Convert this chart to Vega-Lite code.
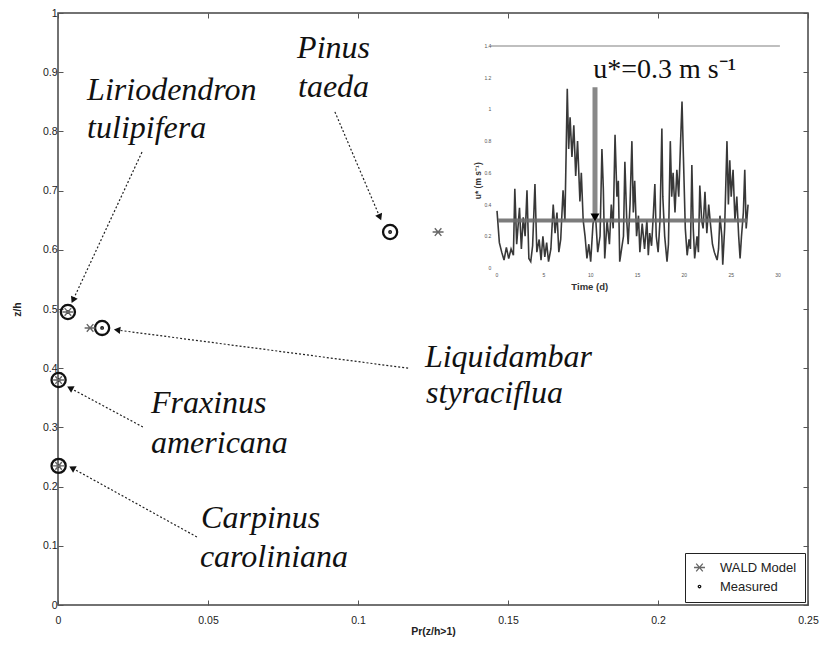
{
  "$schema": "https://vega.github.io/schema/vega-lite/v6.json",
  "autosize": {"type": "none"},
  "padding": {"left": 58, "top": 13, "right": 21, "bottom": 48},
  "width": 750,
  "height": 592,
  "background": "white",
  "config": {
    "view": {"stroke": "#444", "strokeWidth": 1.5},
    "font": "Liberation Sans",
    "axis": {
      "domain": false, "grid": false, "ticks": true, "tickSize": -5, "tickColor": "#555", "tickWidth": 1,
      "labelFont": "Liberation Sans", "labelFontSize": 10.5, "labelColor": "#222", "labelPadding": 6, "labelFlush": false,
      "titleFont": "Liberation Sans", "titleFontSize": 10.5, "titleFontWeight": "bold", "titleColor": "#222"
    },
    "legend": {
      "orient": "bottom-right", "offset": 3, "strokeColor": "#222", "fillColor": "white", "padding": 8,
      "labelFont": "Liberation Sans", "labelFontSize": 13, "labelColor": "#222", "rowPadding": 5, "labelOffset": 14, "symbolStrokeWidth": 1.3
    }
  },
  "datasets": {
    "pts": [
      {"species": "Pinus taeda", "series": "Measured", "pr": 0.1107, "zh": 0.630},
      {"species": "Liriodendron tulipifera", "series": "Measured", "pr": 0.0033, "zh": 0.495},
      {"species": "Liquidambar styraciflua", "series": "Measured", "pr": 0.0147, "zh": 0.468},
      {"species": "Fraxinus americana", "series": "Measured", "pr": 0.0002, "zh": 0.380},
      {"species": "Carpinus caroliniana", "series": "Measured", "pr": 0.0002, "zh": 0.235},
      {"species": "Pinus taeda", "series": "WALD Model", "pr": 0.1267, "zh": 0.630},
      {"species": "Liriodendron tulipifera", "series": "WALD Model", "pr": 0.0033, "zh": 0.495},
      {"species": "Liquidambar styraciflua", "series": "WALD Model", "pr": 0.0107, "zh": 0.468},
      {"species": "Fraxinus americana", "series": "WALD Model", "pr": 0.0002, "zh": 0.380},
      {"species": "Carpinus caroliniana", "series": "WALD Model", "pr": 0.0002, "zh": 0.235}
    ],
    "arrows": [
      {"species": "Pinus taeda", "x1": 0.0923, "y1": 0.833, "x2": 0.1073, "y2": 0.655},
      {"species": "Liriodendron tulipifera", "x1": 0.028, "y1": 0.765, "x2": 0.005, "y2": 0.515},
      {"species": "Liquidambar styraciflua", "x1": 0.1167, "y1": 0.400, "x2": 0.0197, "y2": 0.4645},
      {"species": "Fraxinus americana", "x1": 0.0283, "y1": 0.3007, "x2": 0.004, "y2": 0.3666},
      {"species": "Carpinus caroliniana", "x1": 0.0463, "y1": 0.1149, "x2": 0.0047, "y2": 0.2314}
    ],
    "labels": [
      {"text": "Pinus", "x": 0.0797, "y": 0.924},
      {"text": "taeda", "x": 0.0800, "y": 0.858},
      {"text": "Liriodendron", "x": 0.0097, "y": 0.853},
      {"text": "tulipifera", "x": 0.0097, "y": 0.789},
      {"text": "Liquidambar", "x": 0.1223, "y": 0.402},
      {"text": "styraciflua", "x": 0.1227, "y": 0.341},
      {"text": "Fraxinus", "x": 0.031, "y": 0.324},
      {"text": "americana", "x": 0.031, "y": 0.257},
      {"text": "Carpinus", "x": 0.0477, "y": 0.130},
      {"text": "caroliniana", "x": 0.0473, "y": 0.0642}
    ],
    "ts": [
      {"t": 0.0, "u": 0.36}, {"t": 0.25, "u": 0.16}, {"t": 0.5, "u": 0.10}, {"t": 0.75, "u": 0.05},
      {"t": 1.0, "u": 0.13}, {"t": 1.25, "u": 0.06}, {"t": 1.5, "u": 0.12}, {"t": 1.75, "u": 0.08},
      {"t": 1.9, "u": 0.50}, {"t": 2.1, "u": 0.15}, {"t": 2.4, "u": 0.38}, {"t": 2.6, "u": 0.12},
      {"t": 2.8, "u": 0.32}, {"t": 3.0, "u": 0.20}, {"t": 3.2, "u": 0.49}, {"t": 3.4, "u": 0.06},
      {"t": 3.6, "u": 0.04}, {"t": 3.8, "u": 0.14}, {"t": 4.05, "u": 0.53}, {"t": 4.25, "u": 0.10},
      {"t": 4.5, "u": 0.18}, {"t": 4.7, "u": 0.05}, {"t": 4.9, "u": 0.20}, {"t": 5.1, "u": 0.07},
      {"t": 5.3, "u": 0.16}, {"t": 5.5, "u": 0.04}, {"t": 5.75, "u": 0.12}, {"t": 6.0, "u": 0.40},
      {"t": 6.2, "u": 0.22}, {"t": 6.4, "u": 0.35}, {"t": 6.6, "u": 0.10}, {"t": 6.8, "u": 0.18},
      {"t": 7.05, "u": 0.49}, {"t": 7.25, "u": 0.30}, {"t": 7.5, "u": 1.13}, {"t": 7.65, "u": 0.75},
      {"t": 7.8, "u": 0.95}, {"t": 8.0, "u": 0.70}, {"t": 8.2, "u": 0.90}, {"t": 8.4, "u": 0.58},
      {"t": 8.6, "u": 0.80}, {"t": 8.85, "u": 0.42}, {"t": 9.0, "u": 0.60}, {"t": 9.2, "u": 0.30},
      {"t": 9.4, "u": 0.20}, {"t": 9.6, "u": 0.06}, {"t": 9.8, "u": 0.15}, {"t": 10.0, "u": 0.04},
      {"t": 10.25, "u": 0.28}, {"t": 10.5, "u": 0.35}, {"t": 10.75, "u": 0.10}, {"t": 11.0, "u": 0.20},
      {"t": 11.2, "u": 0.75}, {"t": 11.35, "u": 0.50}, {"t": 11.5, "u": 0.06}, {"t": 11.75, "u": 0.30},
      {"t": 12.0, "u": 0.15}, {"t": 12.2, "u": 0.40}, {"t": 12.4, "u": 0.25}, {"t": 12.6, "u": 0.84},
      {"t": 12.8, "u": 0.45}, {"t": 12.95, "u": 0.55}, {"t": 13.1, "u": 0.04}, {"t": 13.3, "u": 0.12},
      {"t": 13.5, "u": 0.20}, {"t": 13.65, "u": 0.67}, {"t": 13.85, "u": 0.30}, {"t": 14.0, "u": 0.15},
      {"t": 14.2, "u": 0.40}, {"t": 14.4, "u": 0.80}, {"t": 14.55, "u": 0.35}, {"t": 14.7, "u": 0.55},
      {"t": 14.9, "u": 0.20}, {"t": 15.1, "u": 0.33}, {"t": 15.25, "u": 0.10}, {"t": 15.5, "u": 0.28},
      {"t": 15.75, "u": 0.12}, {"t": 16.0, "u": 0.30}, {"t": 16.15, "u": 0.08}, {"t": 16.3, "u": 0.22},
      {"t": 16.5, "u": 0.14}, {"t": 16.7, "u": 0.35}, {"t": 16.85, "u": 0.53}, {"t": 17.0, "u": 0.20},
      {"t": 17.2, "u": 0.10}, {"t": 17.4, "u": 0.30}, {"t": 17.6, "u": 0.88}, {"t": 17.7, "u": 0.45},
      {"t": 17.9, "u": 0.20}, {"t": 18.15, "u": 0.04}, {"t": 18.3, "u": 0.15}, {"t": 18.5, "u": 0.80},
      {"t": 18.65, "u": 0.45}, {"t": 18.8, "u": 0.60}, {"t": 19.0, "u": 0.35}, {"t": 19.2, "u": 0.62},
      {"t": 19.4, "u": 0.45}, {"t": 19.6, "u": 0.80}, {"t": 19.75, "u": 1.05}, {"t": 19.9, "u": 0.70},
      {"t": 20.1, "u": 0.25}, {"t": 20.3, "u": 0.08}, {"t": 20.5, "u": 0.18}, {"t": 20.65, "u": 0.12},
      {"t": 20.8, "u": 0.65}, {"t": 20.95, "u": 0.25}, {"t": 21.1, "u": 0.06}, {"t": 21.35, "u": 0.20},
      {"t": 21.5, "u": 0.10}, {"t": 21.65, "u": 0.52}, {"t": 21.85, "u": 0.30}, {"t": 22.0, "u": 0.25},
      {"t": 22.2, "u": 0.48}, {"t": 22.4, "u": 0.22}, {"t": 22.6, "u": 0.40}, {"t": 22.75, "u": 0.30},
      {"t": 23.0, "u": 0.15}, {"t": 23.2, "u": 0.10}, {"t": 23.5, "u": 0.05}, {"t": 23.65, "u": 0.12},
      {"t": 23.8, "u": 0.33}, {"t": 24.0, "u": 0.20}, {"t": 24.1, "u": 0.02}, {"t": 24.3, "u": 0.25},
      {"t": 24.55, "u": 0.80}, {"t": 24.7, "u": 0.40}, {"t": 24.85, "u": 0.68}, {"t": 25.0, "u": 0.45},
      {"t": 25.2, "u": 0.62}, {"t": 25.4, "u": 0.30}, {"t": 25.6, "u": 0.45}, {"t": 25.8, "u": 0.20},
      {"t": 25.95, "u": 0.06}, {"t": 26.1, "u": 0.20}, {"t": 26.3, "u": 0.35}, {"t": 26.45, "u": 0.62},
      {"t": 26.6, "u": 0.25}, {"t": 26.8, "u": 0.40}
    ],
    "insetLines": [
      {"kind": "frame", "t": -0.7, "t2": 30.2, "u": 1.4, "u2": 1.4},
      {"kind": "mean", "t": 0.1, "t2": 26.7, "u": 0.3, "u2": 0.3},
      {"kind": "event", "t": 10.46, "t2": 10.46, "u": 0.3, "u2": 1.14}
    ],
    "insetMarker": [{"t": 10.46, "u": 0.32}],
    "insetXTicks": [
      {"t": 0, "label": "0"}, {"t": 5, "label": "5"}, {"t": 10, "label": "10"}, {"t": 15, "label": "15"},
      {"t": 20, "label": "20"}, {"t": 25, "label": "25"}, {"t": 30, "label": "30"}
    ],
    "insetYTicks": [
      {"u": 0, "label": "0"}, {"u": 0.2, "label": "0.2"}, {"u": 0.4, "label": "0.4"}, {"u": 0.6, "label": "0.6"},
      {"u": 0.8, "label": "0.8"}, {"u": 1.0, "label": "1"}, {"u": 1.2, "label": "1.2"}, {"u": 1.4, "label": "1.4"}
    ],
    "insetTexts": [
      {"kind": "note", "t": 17.9, "u": 1.2, "text": "u*=0.3 m s⁻¹"},
      {"kind": "xtitle", "t": 9.9, "u": -0.12, "text": "Time (d)"},
      {"kind": "ytitle", "t": -2.0, "u": 0.55, "text": "u* (m s⁻¹)"}
    ]
  },
  "layer": [
    {
      "layer": [
        {
          "data": {"name": "pts"},
          "transform": [{"filter": "datum.series === 'Measured'"}],
          "mark": {"type": "point", "filled": false, "size": 200, "strokeWidth": 2.3, "color": "#111", "opacity": 1},
          "encoding": {
            "x": {"field": "pr", "type": "quantitative", "scale": {"domain": [0, 0.25], "nice": false, "zero": false},
                  "axis": {"orient": "bottom", "values": [0, 0.05, 0.1, 0.15, 0.2, 0.25], "format": "~g", "title": "Pr(z/h>1)", "labelPadding": 15, "titlePadding": 1}},
            "y": {"field": "zh", "type": "quantitative", "scale": {"domain": [0, 1], "nice": false, "zero": false},
                  "axis": {"orient": "left", "values": [0, 0.1, 0.2, 0.3, 0.4, 0.5, 0.6, 0.7, 0.8, 0.9, 1], "format": "~g", "title": "z/h", "titlePadding": 20}}
          }
        },
        {
          "data": {"name": "arrows"},
          "mark": {"type": "rule", "strokeDash": [2, 2], "strokeWidth": 1.2, "color": "#222"},
          "encoding": {
            "x": {"field": "x1", "type": "quantitative", "scale": {"domain": [0, 0.25], "nice": false, "zero": false},
                  "axis": {"orient": "top", "values": [0, 0.05, 0.1, 0.15, 0.2, 0.25], "labels": false, "title": null}},
            "y": {"field": "y1", "type": "quantitative", "scale": {"domain": [0, 1], "nice": false, "zero": false},
                  "axis": {"orient": "right", "values": [0, 0.1, 0.2, 0.3, 0.4, 0.5, 0.6, 0.7, 0.8, 0.9, 1], "labels": false, "title": null}},
            "x2": {"field": "x2"},
            "y2": {"field": "y2"}
          }
        },
        {
          "data": {"name": "pts"},
          "mark": {"type": "point", "filled": false, "strokeWidth": 1.4, "opacity": 1},
          "encoding": {
            "x": {"field": "pr", "type": "quantitative", "axis": null},
            "y": {"field": "zh", "type": "quantitative", "axis": null},
            "shape": {"field": "series", "type": "nominal",
                      "scale": {"domain": ["WALD Model", "Measured"], "range": ["M-1,0L1,0M-0.6,-0.7L0.6,0.7M-0.6,0.7L0.6,-0.7", "circle"]},
                      "legend": {"title": null}},
            "size": {"field": "series", "type": "nominal",
                     "scale": {"domain": ["WALD Model", "Measured"], "range": [120, 6]},
                     "legend": {"title": null}},
            "color": {"field": "series", "type": "nominal",
                      "scale": {"domain": ["WALD Model", "Measured"], "range": ["#666", "#111"]},
                      "legend": {"title": null}}
          }
        },
        {
          "data": {"name": "arrows"},
          "transform": [{"filter": "datum.species === 'Pinus taeda'"}],
          "mark": {"type": "point", "shape": "triangle-up", "filled": true, "size": 55, "color": "#111", "opacity": 1, "angle": 157},
          "encoding": {"x": {"field": "x2", "type": "quantitative", "axis": null}, "y": {"field": "y2", "type": "quantitative", "axis": null}}
        },
        {
          "data": {"name": "arrows"},
          "transform": [{"filter": "datum.species === 'Liriodendron tulipifera'"}],
          "mark": {"type": "point", "shape": "triangle-up", "filled": true, "size": 55, "color": "#111", "opacity": 1, "angle": 205},
          "encoding": {"x": {"field": "x2", "type": "quantitative", "axis": null}, "y": {"field": "y2", "type": "quantitative", "axis": null}}
        },
        {
          "data": {"name": "arrows"},
          "transform": [{"filter": "datum.species === 'Liquidambar styraciflua'"}],
          "mark": {"type": "point", "shape": "triangle-up", "filled": true, "size": 55, "color": "#111", "opacity": 1, "angle": 277},
          "encoding": {"x": {"field": "x2", "type": "quantitative", "axis": null}, "y": {"field": "y2", "type": "quantitative", "axis": null}}
        },
        {
          "data": {"name": "arrows"},
          "transform": [{"filter": "datum.species === 'Fraxinus americana'"}],
          "mark": {"type": "point", "shape": "triangle-up", "filled": true, "size": 55, "color": "#111", "opacity": 1, "angle": 298},
          "encoding": {"x": {"field": "x2", "type": "quantitative", "axis": null}, "y": {"field": "y2", "type": "quantitative", "axis": null}}
        },
        {
          "data": {"name": "arrows"},
          "transform": [{"filter": "datum.species === 'Carpinus caroliniana'"}],
          "mark": {"type": "point", "shape": "triangle-up", "filled": true, "size": 55, "color": "#111", "opacity": 1, "angle": 299},
          "encoding": {"x": {"field": "x2", "type": "quantitative", "axis": null}, "y": {"field": "y2", "type": "quantitative", "axis": null}}
        },
        {
          "data": {"name": "labels"},
          "mark": {"type": "text", "font": "Liberation Serif", "fontStyle": "italic", "fontSize": 32, "align": "left", "baseline": "alphabetic", "color": "#111"},
          "encoding": {
            "x": {"field": "x", "type": "quantitative", "axis": null},
            "y": {"field": "y", "type": "quantitative", "axis": null},
            "text": {"field": "text"}
          }
        }
      ],
      "resolve": {"axis": {"x": "independent", "y": "independent"}}
    },
    {
      "layer": [
        {
          "data": {"name": "ts"},
          "mark": {"type": "line", "color": "#222", "strokeWidth": 1.6, "opacity": 0.9},
          "encoding": {
            "x": {"field": "t", "type": "quantitative", "scale": {"domain": [-46.868, 33.2], "nice": false, "zero": false}, "axis": null},
            "y": {"field": "u", "type": "quantitative", "scale": {"domain": [-2.1252, 1.6081], "nice": false, "zero": false}, "axis": null}
          }
        },
        {
          "data": {"name": "insetLines"},
          "transform": [{"filter": "datum.kind === 'frame'"}],
          "mark": {"type": "rule", "color": "#aaa", "strokeWidth": 1.5},
          "encoding": {
            "x": {"field": "t", "type": "quantitative", "axis": null}, "x2": {"field": "t2"},
            "y": {"field": "u", "type": "quantitative", "axis": null}, "y2": {"field": "u2"}
          }
        },
        {
          "data": {"name": "insetLines"},
          "transform": [{"filter": "datum.kind === 'mean'"}],
          "mark": {"type": "rule", "color": "#6e6e6e", "strokeWidth": 4, "opacity": 0.9},
          "encoding": {
            "x": {"field": "t", "type": "quantitative", "axis": null}, "x2": {"field": "t2"},
            "y": {"field": "u", "type": "quantitative", "axis": null}, "y2": {"field": "u2"}
          }
        },
        {
          "data": {"name": "insetLines"},
          "transform": [{"filter": "datum.kind === 'event'"}],
          "mark": {"type": "rule", "color": "#888", "strokeWidth": 5},
          "encoding": {
            "x": {"field": "t", "type": "quantitative", "axis": null}, "x2": {"field": "t2"},
            "y": {"field": "u", "type": "quantitative", "axis": null}, "y2": {"field": "u2"}
          }
        },
        {
          "data": {"name": "insetMarker"},
          "mark": {"type": "point", "shape": "triangle-down", "filled": true, "size": 80, "color": "#000", "opacity": 1},
          "encoding": {"x": {"field": "t", "type": "quantitative", "axis": null}, "y": {"field": "u", "type": "quantitative", "axis": null}}
        },
        {
          "data": {"name": "insetXTicks"},
          "mark": {"type": "text", "fontSize": 5, "color": "#555", "baseline": "middle", "align": "center"},
          "encoding": {
            "x": {"field": "t", "type": "quantitative", "axis": null},
            "y": {"datum": -0.045, "type": "quantitative", "axis": null},
            "text": {"field": "label"}
          }
        },
        {
          "data": {"name": "insetYTicks"},
          "mark": {"type": "text", "fontSize": 5, "color": "#555", "baseline": "middle", "align": "right"},
          "encoding": {
            "x": {"datum": -0.6, "type": "quantitative", "axis": null},
            "y": {"field": "u", "type": "quantitative", "axis": null},
            "text": {"field": "label"}
          }
        },
        {
          "data": {"name": "insetTexts"},
          "transform": [{"filter": "datum.kind === 'note'"}],
          "mark": {"type": "text", "font": "Liberation Serif", "fontSize": 28, "align": "center", "baseline": "alphabetic", "color": "#111"},
          "encoding": {"x": {"field": "t", "type": "quantitative", "axis": null}, "y": {"field": "u", "type": "quantitative", "axis": null}, "text": {"field": "text"}}
        },
        {
          "data": {"name": "insetTexts"},
          "transform": [{"filter": "datum.kind === 'xtitle'"}],
          "mark": {"type": "text", "font": "Liberation Sans", "fontWeight": "bold", "fontSize": 9.5, "align": "center", "baseline": "middle", "color": "#333"},
          "encoding": {"x": {"field": "t", "type": "quantitative", "axis": null}, "y": {"field": "u", "type": "quantitative", "axis": null}, "text": {"field": "text"}}
        },
        {
          "data": {"name": "insetTexts"},
          "transform": [{"filter": "datum.kind === 'ytitle'"}],
          "mark": {"type": "text", "font": "Liberation Sans", "fontWeight": "bold", "fontSize": 8.5, "align": "center", "baseline": "middle", "angle": 270, "color": "#333"},
          "encoding": {"x": {"field": "t", "type": "quantitative", "axis": null}, "y": {"field": "u", "type": "quantitative", "axis": null}, "text": {"field": "text"}}
        }
      ]
    }
  ],
  "resolve": {"scale": {"x": "independent", "y": "independent"}}
}
